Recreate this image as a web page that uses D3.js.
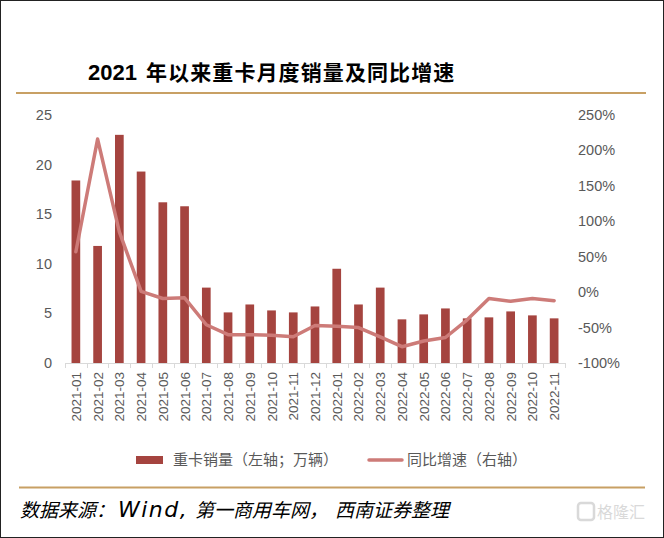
<!DOCTYPE html>
<html>
<head>
<meta charset="utf-8">
<script src="https://cdn.jsdelivr.net/npm/d3@7"></script>
<style>
  html, body { margin: 0; padding: 0; background: #fff; }
  svg { display: block; }
</style>
</head>
<body>
<div id="chart"></div>
<script>
// months on the category axis
var months = ["2021-01", "2021-02", "2021-03", "2021-04", "2021-05", "2021-06",
    "2021-07", "2021-08", "2021-09", "2021-10", "2021-11", "2021-12",
    "2022-01", "2022-02", "2022-03", "2022-04", "2022-05", "2022-06",
    "2022-07", "2022-08", "2022-09", "2022-10", "2022-11"];
// heavy truck sales, 10k units (left axis)
var sales = [18.4, 11.8, 23.0, 19.3, 16.2, 15.8, 7.6, 5.1, 5.9, 5.3, 5.1, 5.7,
    9.5, 5.9, 7.6, 4.4, 4.9, 5.5, 4.5, 4.6, 5.2, 4.8, 4.5];
// year-on-year growth, % (right axis)
var yoy = [57, 216, 85, 1, -9, -8, -46, -60, -60, -61, -63, -47,
    -48, -50, -63, -77, -69, -64, -39, -9, -13, -9, -12];
var leftTicks = [0, 5, 10, 15, 20, 25];
var rightTicks = [-100, -50, 0, 50, 100, 150, 200, 250];

var W = 664, H = 538;
var barColor = "#a5443f", lineColor = "#cd7b78", gold = "#c8a064", textColor = "#595959";
var cjk = "'Noto Sans CJK SC', 'Noto Sans', sans-serif";
var latin = "Arial, 'Liberation Sans', sans-serif";

var svg = d3.select("#chart").append("svg")
    .attr("width", W)
    .attr("height", H);

// outer frame
svg.append("rect")
    .attr("x", 0.5).attr("y", 0.5)
    .attr("width", W - 1).attr("height", H - 1)
    .attr("fill", "#fff").attr("stroke", "#222");

// title
var title = svg.append("text")
    .attr("y", 80)
    .attr("font-weight", "bold")
    .attr("fill", "#000");
title.append("tspan").attr("x", 88).attr("font-family", latin).attr("font-size", 22).text("2021");
title.append("tspan").attr("x", 146).attr("font-family", cjk).attr("font-size", 21)
    .attr("letter-spacing", 1.1).text("年以来重卡月度销量及同比增速");

svg.append("line")
    .attr("x1", 16).attr("x2", 646).attr("y1", 93).attr("y2", 93)
    .attr("stroke", gold).attr("stroke-width", 2);

// scales
var plot = {left: 65, right: 565, top: 115, bottom: 363};

var x = d3.scaleBand()
    .domain(months)
    .range([plot.left, plot.right])
    .paddingInner(0.6)
    .paddingOuter(0.3);

var yL = d3.scaleLinear().domain([0, 25]).range([plot.bottom, plot.top]);
var yR = d3.scaleLinear().domain([-100, 250]).range([plot.bottom, plot.top]);

// bars
svg.append("g").selectAll("rect")
    .data(sales)
    .join("rect")
    .attr("x", function (d, i) { return x(months[i]); })
    .attr("y", function (d) { return yL(d); })
    .attr("width", x.bandwidth())
    .attr("height", function (d) { return yL(0) - yL(d); })
    .attr("fill", barColor);

// x axis line and tick marks at band boundaries
var step = x.step();
var xAxis = svg.append("g").attr("stroke", "#d9d9d9").attr("stroke-width", 1);
xAxis.append("line")
    .attr("x1", plot.left).attr("x2", plot.right)
    .attr("y1", plot.bottom + 0.5).attr("y2", plot.bottom + 0.5);
xAxis.selectAll("line.tk")
    .data(d3.range(months.length + 1))
    .join("line")
    .attr("class", "tk")
    .attr("x1", function (i) { return Math.round(plot.left + i * step) + 0.5; })
    .attr("x2", function (i) { return Math.round(plot.left + i * step) + 0.5; })
    .attr("y1", plot.bottom).attr("y2", plot.bottom + 5);

// month labels, rotated
svg.append("g").selectAll("text")
    .data(months)
    .join("text")
    .attr("transform", function (d) {
        return "translate(" + (x(d) + x.bandwidth() / 2 + 5) + "," + (plot.bottom + 9) + ") rotate(-90)";
    })
    .attr("text-anchor", "end")
    .attr("font-family", latin)
    .attr("font-size", 13.5)
    .attr("fill", textColor)
    .text(function (d) { return d; });

// line series
var line = d3.line()
    .x(function (d, i) { return x(months[i]) + x.bandwidth() / 2; })
    .y(function (d) { return yR(d); });

svg.append("path")
    .datum(yoy)
    .attr("d", line)
    .attr("fill", "none")
    .attr("stroke", lineColor)
    .attr("stroke-width", 3.5)
    .attr("stroke-linejoin", "round")
    .attr("stroke-linecap", "round");

// left axis labels
svg.append("g").selectAll("text")
    .data(leftTicks)
    .join("text")
    .attr("x", 52)
    .attr("y", function (d) { return yL(d) + 5; })
    .attr("text-anchor", "end")
    .attr("font-family", latin)
    .attr("font-size", 14.5)
    .attr("fill", textColor)
    .text(function (d) { return d; });

// right axis labels
svg.append("g").selectAll("text")
    .data(rightTicks)
    .join("text")
    .attr("x", 578)
    .attr("y", function (d) { return yR(d) + 5; })
    .attr("font-family", latin)
    .attr("font-size", 14.5)
    .attr("fill", textColor)
    .text(function (d) { return d + "%"; });

// legend
var lg = svg.append("g");
lg.append("rect")
    .attr("x", 136).attr("y", 456).attr("width", 27).attr("height", 8)
    .attr("fill", barColor);
lg.append("text")
    .attr("x", 173).attr("y", 465)
    .attr("font-family", cjk).attr("font-size", 15).attr("fill", textColor)
    .text("重卡销量（左轴；万辆）");
lg.append("line")
    .attr("x1", 369).attr("x2", 402).attr("y1", 460).attr("y2", 460)
    .attr("stroke", lineColor).attr("stroke-width", 3.5).attr("stroke-linecap", "round");
lg.append("text")
    .attr("x", 407).attr("y", 465)
    .attr("font-family", cjk).attr("font-size", 15).attr("fill", textColor)
    .text("同比增速（右轴）");

svg.append("line")
    .attr("x1", 19).attr("x2", 645).attr("y1", 487.5).attr("y2", 487.5)
    .attr("stroke", gold).attr("stroke-width", 2);

// source note
var src = svg.append("text")
    .attr("y", 517)
    .attr("font-style", "italic")
    .attr("font-size", 19)
    .attr("fill", "#000");
src.append("tspan").attr("x", 20).attr("font-family", cjk).text("数据来源：");
src.append("tspan").attr("x", 118).attr("font-family", "'DejaVu Sans', sans-serif")
    .attr("font-size", 22).attr("letter-spacing", 1.5).text("Wind,");
src.append("tspan").attr("x", 195).attr("font-family", cjk).text("第一商用车网，");
src.append("tspan").attr("x", 335).attr("font-family", cjk).text("西南证券整理");

// watermark
var wm = svg.append("g").attr("opacity", 0.55);
wm.append("rect")
    .attr("x", 578).attr("y", 503).attr("width", 16).attr("height", 17).attr("rx", 3)
    .attr("fill", "none").attr("stroke", "#bbb").attr("stroke-width", 2.5);
wm.append("text")
    .attr("x", 597).attr("y", 518)
    .attr("font-family", cjk).attr("font-size", 16).attr("fill", "#bbb")
    .text("格隆汇");
</script>
</body>
</html>
